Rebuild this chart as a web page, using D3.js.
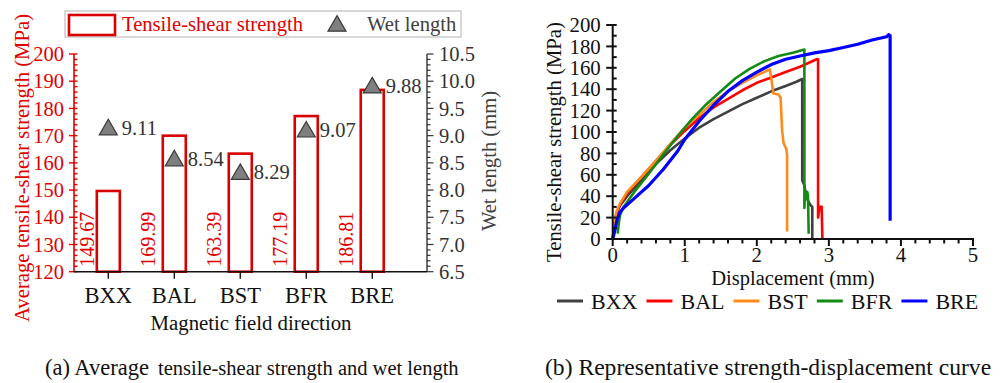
<!DOCTYPE html>
<html>
<head>
<meta charset="utf-8">
<script src="https://cdn.jsdelivr.net/npm/d3@7/dist/d3.min.js"></script>
<style>
  html, body { margin: 0; padding: 0; background: #fff; }
  svg { display: block; font-family: "Liberation Serif", "Times New Roman", serif; }
</style>
</head>
<body>
<svg id="chart" width="1003" height="383"></svg>
<script>
// ---- Panel (a): average tensile-shear strength and wet length ----
const categories = ["BXX", "BAL", "BST", "BFR", "BRE"];
const strength = [149.67, 169.99, 163.39, 177.19, 186.81];   // MPa
const wetLength = [9.11, 8.54, 8.29, 9.07, 9.88];             // mm
const strengthTicks = [120, 130, 140, 150, 160, 170, 180, 190, 200];
const wetTicks = [6.5, 7.0, 7.5, 8.0, 8.5, 9.0, 9.5, 10.0, 10.5];

// ---- Panel (b): representative strength-displacement curves [mm, MPa] ----
const seriesNames = ["BXX", "BAL", "BST", "BFR", "BRE"];
const curveBXX = [[0,0],[0.02,12],[0.05,24],[0.1,31],[0.2,40],[0.4,55],[0.6,70],[0.8,83],[1.0,94],[1.2,104],[1.4,112],[1.6,119],[1.8,126],[2.0,132],[2.2,138],[2.4,143],[2.55,147],[2.63,149.5],[2.63,55],[2.66,50],[2.68,42],[2.71,36],[2.74,32],[2.77,30],[2.77,0]];
const curveBAL = [[0,0],[0.03,12],[0.06,25],[0.1,32],[0.2,43],[0.4,58],[0.6,73],[0.8,88],[1.0,101],[1.2,113],[1.4,123],[1.6,131],[1.8,139],[2.0,146],[2.2,151],[2.4,156],[2.6,161],[2.83,168],[2.85,168],[2.85,20],[2.87,30],[2.9,30],[2.91,0]];
const curveBST = [[0,0],[0.02,12],[0.05,25],[0.1,33],[0.2,44],[0.4,58],[0.6,73],[0.8,89],[1.0,104],[1.2,116],[1.4,128],[1.6,138],[1.8,146],[2.0,153],[2.1,156],[2.18,158.6],[2.2,150],[2.23,136],[2.3,135],[2.33,132],[2.35,102],[2.37,90],[2.41,84],[2.42,78],[2.42,7]];
const curveBFR = [[0.07,5],[0.08,12],[0.1,22],[0.15,30],[0.3,44],[0.5,61],[0.7,79],[0.9,96],[1.1,112],[1.3,126],[1.5,138],[1.7,150],[1.9,159],[2.1,166],[2.3,171],[2.5,174],[2.66,177],[2.66,29],[2.67,45],[2.69,38],[2.7,44],[2.71,40],[2.72,5]];
const curveBRE = [[0,0],[0.03,8],[0.06,18],[0.1,25],[0.15,29],[0.3,38],[0.5,50],[0.7,65],[0.9,82],[1.0,93],[1.2,110],[1.4,125],[1.6,138],[1.8,148],[2.0,156],[2.2,163],[2.4,168],[2.6,171],[2.8,174],[3.0,176],[3.2,179],[3.4,182],[3.6,186],[3.8,189],[3.83,191],[3.85,190],[3.85,17]];
const curves = [curveBXX, curveBAL, curveBST, curveBFR, curveBRE];
const curveColors = ["#404040", "#ff0000", "#ff8c1a", "#138a13", "#0000ff"];
const dispTicks = [0, 1, 2, 3, 4, 5];
const stressTicks = [0, 20, 40, 60, 80, 100, 120, 140, 160, 180, 200];

const RED = "#e00000";
const svg = d3.select("#chart");

// ================= Panel (a) =================
const a = svg.append("g");
const xA = d3.scaleLinear().domain([-0.52, 4.83]).range([74, 427]);
const yL = d3.scaleLinear().domain([120, 200]).range([271.7, 54]);
const yR = d3.scaleLinear().domain([6.5, 10.5]).range([271.7, 54]);

// bars
a.selectAll("rect.bar").data(strength).join("rect")
  .attr("class", "bar")
  .attr("x", (d, i) => xA(i) - 11.5)
  .attr("width", 23)
  .attr("y", d => yL(d))
  .attr("height", d => yL(120) - yL(d))
  .attr("fill", "#fff").attr("stroke", "#d80000").attr("stroke-width", 2.6);

// rotated bar values
a.selectAll("text.val").data(strength).join("text")
  .attr("class", "val")
  .attr("transform", (d, i) => `translate(${xA(i) - (i === 0 ? 21 : 26)},${yL(120) - 5}) rotate(-90)`)
  .attr("dominant-baseline", "central")
  .attr("font-size", 20).attr("fill", RED)
  .text(d => d.toFixed(2));

// left axis (strength)
const leftAxis = a.append("g").attr("transform", "translate(74,0)");
leftAxis.append("line").attr("y1", yL(200)).attr("y2", yL(120))
  .attr("stroke", RED).attr("stroke-width", 1.6);
d3.range(120, 200.1, 2).forEach(v => {
  const major = v % 10 === 0;
  leftAxis.append("line")
    .attr("x1", major ? -5 : 0).attr("x2", 3.5)
    .attr("y1", yL(v)).attr("y2", yL(v))
    .attr("stroke", RED).attr("stroke-width", 1.4);
});
leftAxis.selectAll("text.tl").data(strengthTicks).join("text")
  .attr("class", "tl")
  .attr("x", -10).attr("y", d => yL(d)).attr("dy", "0.35em")
  .attr("text-anchor", "end").attr("font-size", 20.5).attr("fill", RED)
  .text(d => d);

// right axis (wet length)
const rightAxis = a.append("g").attr("transform", "translate(427,0)");
rightAxis.append("line").attr("y1", yR(10.5)).attr("y2", yR(6.5))
  .attr("stroke", "#333").attr("stroke-width", 1.4);
d3.range(65, 105.1, 1).forEach(k => {
  const v = k / 10;
  const major = k % 5 === 0;
  rightAxis.append("line")
    .attr("x1", 0).attr("x2", major ? 6.5 : 3.5)
    .attr("y1", yR(v)).attr("y2", yR(v))
    .attr("stroke", "#333").attr("stroke-width", 1.2);
});
rightAxis.selectAll("text").data(wetTicks).join("text")
  .attr("x", 12).attr("y", d => yR(d)).attr("dy", "0.35em")
  .attr("font-size", 20.5).attr("fill", "#333")
  .text(d => d.toFixed(1));

// bottom axis
const bottomA = a.append("g").attr("transform", `translate(0,${yL(120)})`);
bottomA.append("line").attr("x1", 74).attr("x2", 427).attr("stroke", "#111").attr("stroke-width", 1.4);
categories.forEach((c, i) => {
  bottomA.append("line").attr("x1", xA(i)).attr("x2", xA(i)).attr("y1", 0).attr("y2", 7)
    .attr("stroke", "#111").attr("stroke-width", 1.4);
  bottomA.append("text").attr("x", xA(i)).attr("y", 31.5)
    .attr("text-anchor", "middle").attr("font-size", 22.5).attr("fill", "#111").text(c);
});

// wet length markers and labels
const tri = d3.symbol().type(d3.symbolTriangle).size(140);
a.selectAll("path.wet").data(wetLength).join("path")
  .attr("class", "wet")
  .attr("transform", (d, i) => `translate(${xA(i)},${yR(d)})`)
  .attr("d", tri).attr("fill", "#7f7f7f").attr("stroke", "#3a3a3a").attr("stroke-width", 1.2);
a.selectAll("text.wetv").data(wetLength).join("text")
  .attr("class", "wetv")
  .attr("x", (d, i) => xA(i) + 13.5).attr("y", d => yR(d) + 5)
  .attr("font-size", 20.5).attr("fill", "#333")
  .text(d => d.toFixed(2));

// axis titles
a.append("text")
  .attr("transform", "translate(22,168) rotate(-90)")
  .attr("text-anchor", "middle").attr("dominant-baseline", "central")
  .attr("font-size", 20.7).attr("fill", RED)
  .text("Average tensile-shear strength (MPa)");
a.append("text")
  .attr("transform", "translate(489,161) rotate(-90)")
  .attr("text-anchor", "middle").attr("dominant-baseline", "central")
  .attr("font-size", 20.6).attr("fill", "#404040")
  .text("Wet length (mm)");
a.append("text").attr("x", 251).attr("y", 330)
  .attr("text-anchor", "middle").attr("font-size", 20.8).attr("fill", "#111")
  .text("Magnetic field direction");

// legend
const legA = a.append("g");
legA.append("rect").attr("x", 65).attr("y", 11).attr("width", 396).attr("height", 26)
  .attr("fill", "#fff").attr("stroke", "#b0b0b0").attr("stroke-width", 1);
legA.append("rect").attr("x", 69).attr("y", 15).attr("width", 46).attr("height", 20)
  .attr("fill", "#fff").attr("stroke", "#d80000").attr("stroke-width", 2.6);
legA.append("text").attr("x", 122).attr("y", 31).attr("font-size", 20.6).attr("fill", RED)
  .text("Tensile-shear strength");
legA.append("path").attr("transform", "translate(337,26)").attr("d", tri)
  .attr("fill", "#7f7f7f").attr("stroke", "#3a3a3a").attr("stroke-width", 1.2);
legA.append("text").attr("x", 367).attr("y", 31).attr("font-size", 20.6).attr("fill", "#404040")
  .text("Wet length");

// caption (a)
const capA = a.append("text").attr("x", 45).attr("y", 374.5).attr("fill", "#111");
capA.append("tspan").attr("font-size", 22.5).text("(a) Average");
capA.append("tspan").attr("x", 158).attr("font-size", 20.5).text("tensile-shear strength and wet length");

// ================= Panel (b) =================
const b = svg.append("g");
const xB = d3.scaleLinear().domain([0, 5]).range([612.7, 973]);
const yB = d3.scaleLinear().domain([0, 200]).range([239, 25]);

const line = d3.line().x(d => xB(d[0])).y(d => yB(d[1]));
b.selectAll("path.curve").data(curves).join("path")
  .attr("class", "curve")
  .attr("d", line)
  .attr("fill", "none")
  .attr("stroke", (d, i) => curveColors[i])
  .attr("stroke-width", (d, i) => i === 4 ? 3.2 : 2.6)
  .attr("stroke-linejoin", "round");

// y axis
const yAxB = b.append("g").attr("transform", "translate(612.7,0)");
yAxB.append("line").attr("y1", yB(200)).attr("y2", yB(0)).attr("stroke", "#111").attr("stroke-width", 2);
d3.range(0, 200.1, 10).forEach(v => {
  const major = v % 20 === 0;
  yAxB.append("line").attr("x1", major ? -6.5 : 0).attr("x2", 4)
    .attr("y1", yB(v)).attr("y2", yB(v)).attr("stroke", "#111").attr("stroke-width", 2);
});
yAxB.selectAll("text").data(stressTicks).join("text")
  .attr("x", -12).attr("y", d => yB(d)).attr("dy", "0.35em")
  .attr("text-anchor", "end").attr("font-size", 20.8).attr("fill", "#111")
  .text(d => d);

// x axis
const xAxB = b.append("g").attr("transform", `translate(0,${yB(0)})`);
xAxB.append("line").attr("x1", xB(0)).attr("x2", xB(5)).attr("stroke", "#111").attr("stroke-width", 2);
d3.range(0, 25.1, 1).forEach(k => {
  const v = k / 5;
  const major = k % 5 === 0;
  xAxB.append("line").attr("x1", xB(v)).attr("x2", xB(v))
    .attr("y1", -1).attr("y2", major ? 7 : 4.5).attr("stroke", "#111").attr("stroke-width", 2);
});
xAxB.selectAll("text").data(dispTicks).join("text")
  .attr("x", d => xB(d)).attr("y", 23)
  .attr("text-anchor", "middle").attr("font-size", 20.8).attr("fill", "#111")
  .text(d => d);

// axis titles
b.append("text").attr("x", 793).attr("y", 284.5)
  .attr("text-anchor", "middle").attr("font-size", 20.5).attr("fill", "#111")
  .text("Displacement (mm)");
b.append("text")
  .attr("transform", "translate(554,142) rotate(-90)")
  .attr("text-anchor", "middle").attr("dominant-baseline", "central")
  .attr("font-size", 20.7).attr("fill", "#111")
  .text("Tensile-shear strength (MPa)");

// legend
const legB = b.append("g");
let lx = 557;
seriesNames.forEach((n, i) => {
  legB.append("line").attr("x1", lx).attr("x2", lx + 26).attr("y1", 301).attr("y2", 301)
    .attr("stroke", curveColors[i]).attr("stroke-width", 3);
  const t = legB.append("text").attr("x", lx + 34).attr("y", 309)
    .attr("font-size", 22).attr("fill", "#111").text(n);
  lx = lx + 34 + t.node().getComputedTextLength() + 9;
});

// caption (b)
b.append("text").attr("x", 545).attr("y", 374.5)
  .attr("font-size", 23.6).attr("fill", "#111")
  .text("(b) Representative strength-displacement curve");
</script>
</body>
</html>
